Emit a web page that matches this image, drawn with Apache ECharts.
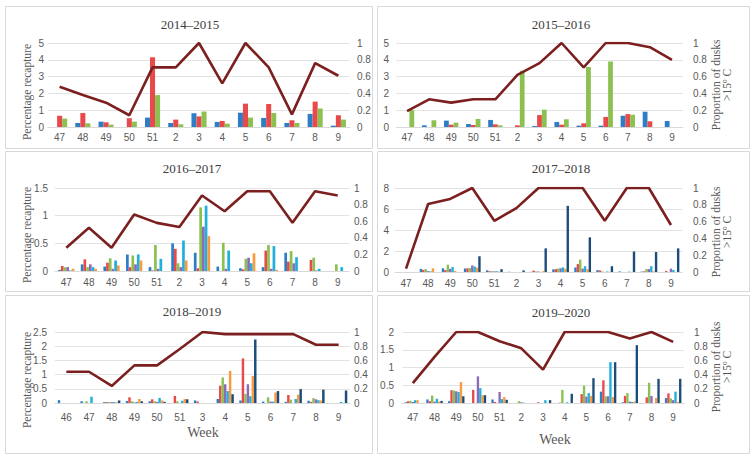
<!DOCTYPE html>
<html><head><meta charset="utf-8">
<script src="https://cdn.jsdelivr.net/npm/echarts@6/dist/echarts.min.js"></script>
<style>html,body{margin:0;padding:0;background:#fff}#c{width:753px;height:458px}</style>
</head><body><div id="c"></div>
<script>
// ---------- categories ----------
const weeks = ['47','48','49','50','51','2','3','4','5','6','7','8','9'];
const weeks1819 = ['46','47','48','49','50','51','3','4','5','6','7','8','9'];

// ---------- 2014–2015 ----------
const blue1415  = [0,0.24,0.32,0,0.56,0.24,0.82,0.3,0.85,0.54,0.24,0.78,0.08];
const red1415   = [0.67,0.83,0.28,0.52,4.15,0.44,0.63,0.36,1.39,1.37,0.4,1.51,0.7];
const green1415 = [0.5,0.22,0.14,0.32,1.9,0.16,0.92,0.2,0.56,0.83,0.24,1.1,0.44];
const dusks1415 = [0.48,0.38,0.29,0.14,0.71,0.71,1,0.52,1,0.71,0.15,0.76,0.61];

// ---------- 2015–2016 ----------
const blue1516  = [0,0.1,0.38,0.18,0.42,0,0.06,0.3,0.08,0.08,0.67,0.91,0.36];
const red1516   = [0,0,0.14,0.12,0.16,0.1,0.71,0.14,0.22,0.6,0.77,0.34,0];
const green1516 = [1.0,0.4,0.26,0.48,0.1,3.35,1.03,0.46,3.57,3.9,0.73,0,0];
const dusks1516 = [0.19,0.33,0.29,0.33,0.33,0.62,0.76,1,0.71,1,1,0.95,0.8];

// ---------- 2016–2017 ----------
const blue1617   = [0.02,0.12,0.08,0.3,0.07,0.5,0.33,0.08,0.05,0.07,0.33,0,0];
const red1617    = [0.09,0.21,0.15,0.07,0.01,0.4,0.05,0,0.03,0.37,0.17,0.2,0];
const green1617  = [0.07,0.07,0.23,0.28,0.47,0.14,1.15,0.51,0.22,0.47,0.36,0.24,0.12];
const purple1617 = [0.07,0.12,0.04,0.12,0.04,0.07,0.8,0.04,0.24,0.04,0.14,0.01,0];
const cyan1617   = [0.01,0.07,0.19,0.3,0.22,0.55,1.18,0.37,0.14,0.45,0.25,0.04,0.07];
const orange1617 = [0.04,0.04,0.1,0.19,0,0.19,0.63,0,0.32,0.02,0,0,0];
const dusks1617  = [0.28,0.52,0.28,0.68,0.58,0.53,0.91,0.72,0.96,0.96,0.58,0.96,0.91];

// ---------- 2017–2018 ----------
const blue1718   = [0,0.3,0.35,0.33,0.16,0.02,0.02,0.25,0.43,0.18,0.06,0.04,0];
const red1718    = [0,0.2,0.18,0.35,0.08,0,0.13,0.27,0.75,0.15,0,0.06,0.1];
const green1718  = [0,0.27,0.7,0.38,0.08,0,0.05,0.33,1.18,0.05,0,0.28,0];
const purple1718 = [0,0.08,0.3,0.62,0.06,0,0.05,0.36,0.32,0,0,0.28,0.32];
const cyan1718   = [0,0.06,0.48,0.52,0.07,0,0,0.44,0.55,0.05,0.04,0.55,0.19];
const orange1718 = [0,0.35,0.1,0.42,0.04,0,0.08,0.3,0.27,0.03,0,0.06,0];
const navy1718   = [0,0,0,1.5,0.27,0.15,2.25,6.3,3.3,0.55,1.95,1.9,2.25];
const dusks1718  = [0.04,0.81,0.87,1,0.61,0.76,1,1,1,0.61,1,1,0.56];

// ---------- 2018–2019 ----------
const blue1819   = [0.1,0.06,0.03,0.07,0.06,0,0.09,0.14,0.09,0.05,0.04,0.08,0];
const red1819    = [0,0,0.03,0.2,0.13,0.25,0.05,0.61,1.57,0,0.28,0.04,0];
const green1819  = [0,0.06,0.03,0.06,0.06,0.06,0,0.9,0.32,0.2,0.12,0.17,0];
const purple1819 = [0,0,0.03,0.02,0.04,0,0,0.66,0.66,0.05,0,0.13,0];
const cyan1819   = [0,0.22,0.03,0.04,0.18,0.08,0,0.42,0.24,0.05,0.14,0.1,0.04];
const orange1819 = [0,0,0.02,0.14,0.09,0.14,0,1.13,0.95,0.37,0.29,0.09,0];
const navy1819   = [0,0,0.09,0.06,0.04,0.13,0,0.31,2.24,0.42,0.49,0.47,0.44];
const dusks1819  = [0.44,0.44,0.24,0.53,0.53,0.76,1,0.97,0.97,0.97,0.97,0.82,0.82];

// ---------- 2019–2020 ----------
const blue1920   = [0.02,0.1,0.05,0,0.1,0,0,0,0,0.32,0.02,0,0.14];
const red1920    = [0.05,0.05,0.36,0.37,0.03,0,0.02,0.01,0.25,0.64,0.2,0.16,0.27];
const green1920  = [0.06,0.21,0.35,0,0,0.05,0,0.37,0.49,0.19,0.28,0.57,0.13];
const purple1920 = [0.03,0.04,0.33,0.75,0.31,0.02,0,0,0.18,0.19,0.04,0.2,0.08];
const cyan1920   = [0.08,0.12,0.31,0.42,0.11,0.01,0.08,0.02,0.28,1.15,0.03,0,0.32];
const orange1920 = [0.08,0.04,0.59,0.22,0.17,0,0,0,0.2,0.17,0.04,0.14,0.03];
const navy1920   = [0,0.06,0.19,0.22,0.09,0,0.08,0.26,0.7,1.15,1.63,0.68,0.68];
const dusks1920  = [0.28,0.65,1,1,0.87,0.77,0.47,1,1,1,0.91,1,0.86];

// ---------- styling ----------
const C = {blue:'#2e7ec6', red:'#e8494b', green:'#8cc152', purple:'#8d6bb7',
           cyan:'#1fb0dd', orange:'#fb9b3d', navy:'#1c4d7a', line:'#7b1f1f'};
const tickFont = 'Liberation Sans';
const serif = 'Liberation Serif';

const panels = [
  {title:'2014–2015', cats:weeks, max:5, interval:1, bars:[[blue1415,C.blue],[red1415,C.red],[green1415,C.green]], dusks:dusks1415,
   grid:{left:48,top:43,width:302,height:84}, lm:4, rm:7, xm:5, gap:'35%', tx:190, ty:24},
  {title:'2015–2016', cats:weeks, max:5, interval:1, bars:[[blue1516,C.blue],[red1516,C.red],[green1516,C.green]], dusks:dusks1516,
   grid:{left:396,top:43,width:287,height:84}, lm:7, rm:10, xm:5, gap:'35%', tx:561, ty:24},
  {title:'2016–2017', cats:weeks, max:1.5, interval:0.5, bars:[[blue1617,C.blue],[red1617,C.red],[green1617,C.green],[purple1617,C.purple],[cyan1617,C.cyan],[orange1617,C.orange]], dusks:dusks1617,
   grid:{left:55,top:188,width:294,height:83}, lm:7, rm:5, xm:6, gap:'28%', tx:192, ty:168},
  {title:'2017–2018', cats:weeks, max:8, interval:2, bars:[[blue1718,C.blue],[red1718,C.red],[green1718,C.green],[purple1718,C.purple],[cyan1718,C.cyan],[orange1718,C.orange],[navy1718,C.navy]], dusks:dusks1718,
   grid:{left:395,top:188,width:287,height:84}, lm:6, rm:11, xm:6, gap:'24%', tx:561, ty:168},
  {title:'2018–2019', cats:weeks1819, max:2.5, interval:0.5, bars:[[blue1819,C.blue],[red1819,C.red],[green1819,C.green],[purple1819,C.purple],[cyan1819,C.cyan],[orange1819,C.orange],[navy1819,C.navy]], dusks:dusks1819,
   grid:{left:55,top:332,width:295,height:71}, lm:8, rm:4, xm:9, gap:'24%', tx:192, ty:311},
  {title:'2019–2020', cats:weeks, max:2, interval:0.5, bars:[[blue1920,C.blue],[red1920,C.red],[green1920,C.green],[purple1920,C.purple],[cyan1920,C.cyan],[orange1920,C.orange],[navy1920,C.navy]], dusks:dusks1920,
   grid:{left:402,top:332,width:282,height:71}, lm:8, rm:10, xm:9, gap:'24%', tx:561, ty:312}
];

const grid=[], xAxis=[], yAxis=[], series=[], graphic=[];
const labelStyle = {color:'#595959', fontSize:10, fontFamily:tickFont};

// panel boxes
[[5,6,367,142],[377,6,372,142],[5,151,367,140],[377,151,372,140],[5,295,367,158],[377,295,372,158]].forEach(b=>{
  graphic.push({type:'rect', shape:{x:b[0]+0.5,y:b[1]+0.5,width:b[2],height:b[3]}, style:{fill:'none',stroke:'#d9d9d9',lineWidth:1}, z:-1});
});

panels.forEach((p,i)=>{
  grid.push(p.grid);
  xAxis.push({type:'category', gridIndex:i, data:p.cats, axisTick:{show:false},
    axisLine:{lineStyle:{color:'#d9d9d9'}}, axisLabel:Object.assign({interval:0, margin:p.xm}, labelStyle)});
  yAxis.push({type:'value', gridIndex:i, min:0, max:p.max, interval:p.interval,
    axisLine:{show:false}, axisTick:{show:false}, splitLine:{lineStyle:{color:'#e3e3e3'}},
    axisLabel:Object.assign({margin:p.lm}, labelStyle)});
  yAxis.push({type:'value', gridIndex:i, position:'right', min:0, max:1, interval:0.2,
    axisLine:{show:false}, axisTick:{show:false}, splitLine:{show:false},
    axisLabel:Object.assign({margin:p.rm}, labelStyle)});
  p.bars.forEach(b=>{
    series.push({type:'bar', xAxisIndex:i, yAxisIndex:2*i, data:b[0], barGap:'0%', barCategoryGap:p.gap,
      itemStyle:{color:b[1]}, silent:true, animation:false});
  });
  series.push({type:'line', xAxisIndex:i, yAxisIndex:2*i+1, data:p.dusks, symbol:'none', z:5,
    lineStyle:{color:C.line, width:2.6}, silent:true, animation:false});
  graphic.push({type:'text', x:p.tx, y:p.ty, style:{text:p.title, font:'13px "'+serif+'"', fill:'#404040', textAlign:'center', textVerticalAlign:'middle'}});
});

// axis names
[[27,92],[27,235],[27,380]].forEach(a=>{
  graphic.push({type:'text', x:a[0], y:a[1], rotation:Math.PI/2,
    style:{text:'Percentage recapture', font:'11.5px "'+serif+'"', fill:'#595959', textAlign:'center', textVerticalAlign:'middle'}});
});
[[721,85],[721,232],[721,367]].forEach(a=>{
  graphic.push({type:'text', x:a[0], y:a[1], rotation:Math.PI/2,
    style:{text:'Proportion of dusks\n>15º C', font:'11.5px "'+serif+'"', lineHeight:11, fill:'#595959', textAlign:'center', textVerticalAlign:'middle'}});
});
[[203,432],[555,439]].forEach(a=>{
  graphic.push({type:'text', x:a[0], y:a[1],
    style:{text:'Week', font:'14px "'+serif+'"', fill:'#595959', textAlign:'center', textVerticalAlign:'middle'}});
});

const chart = echarts.init(document.getElementById('c'), null, {renderer:'svg'});
chart.setOption({animation:false, backgroundColor:'#fff', grid, xAxis, yAxis, series, graphic});
</script></body></html>
